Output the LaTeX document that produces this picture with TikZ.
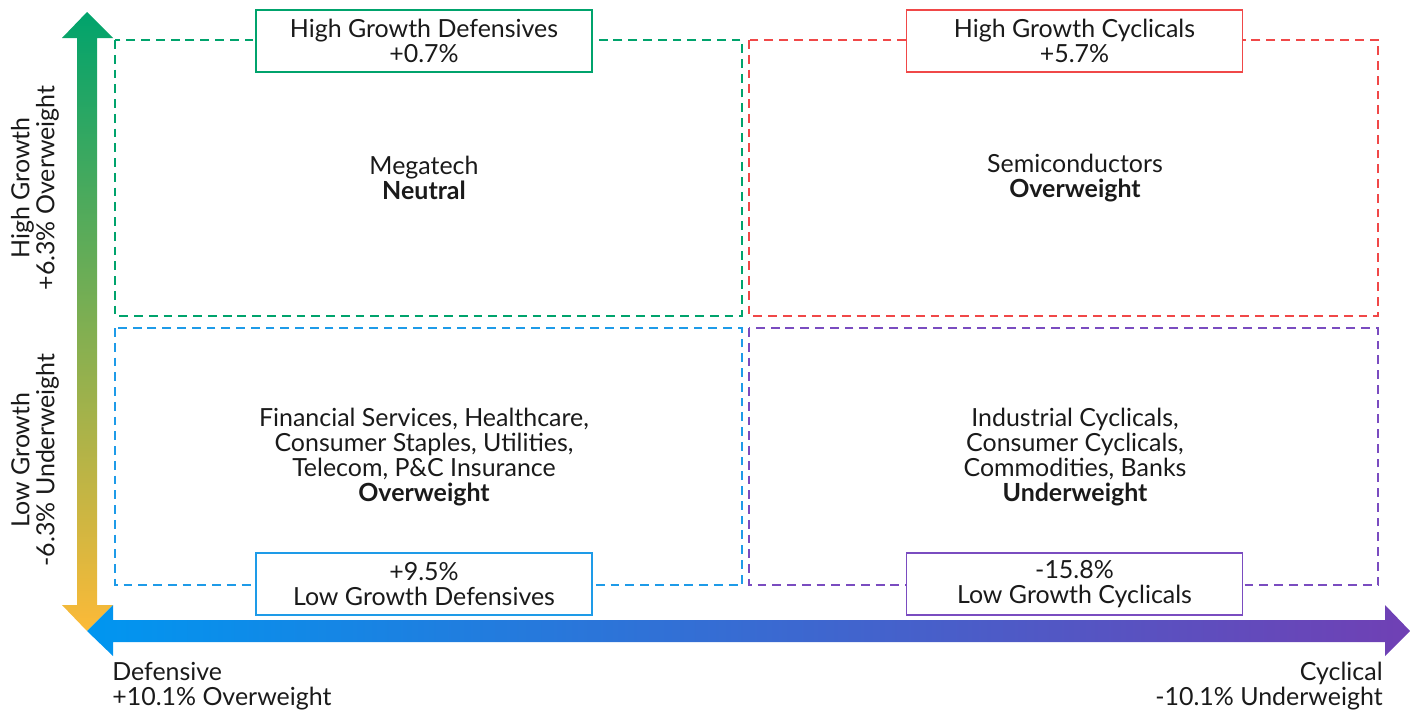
\documentclass[tikz,border=0pt]{standalone}
\usepackage{fontspec}
\setmainfont{Lato}
\usepackage{tikz}
\usetikzlibrary{positioning,calc}
\usepackage{xcolor}

\definecolor{hgdgreen}{RGB}{0,163,108}
\definecolor{hgcred}{RGB}{240,72,72}
\definecolor{lgdblue}{RGB}{30,155,232}
\definecolor{lgcpurple}{RGB}{122,76,192}
\definecolor{axisyellow}{RGB}{252,186,56}
\definecolor{axisblue}{RGB}{0,150,240}
\definecolor{axispurple}{RGB}{112,64,180}
\definecolor{inkgray}{RGB}{26,26,26}

\tikzset{
  quad/.style={dashed, line width=1.1pt, dash pattern=on 5pt off 3.4pt},
  tag/.style={draw, fill=white, line width=0.9pt, minimum width=6.72cm, minimum height=1.24cm, align=center, inner sep=0pt},
  body/.style={align=center, text=inkgray},
}

\begin{document}
\begin{tikzpicture}[x=0.02cm, y=-0.02cm, font=\fontsize{14.2}{14.2}\selectfont, text=inkgray]
\useasboundingbox (0,0) rectangle (1417,710);

% Vertical axis (growth)
\shade[top color=hgdgreen, bottom color=axisyellow]
  (77,38) -- (62,38) -- (87,12) -- (113,38) -- (97,38) -- (97,605) -- (113,605)
  -- (87,631) -- (62,605) -- (77,605) -- cycle;
% Horizontal axis (cyclicality)
\shade[left color=axisblue, right color=axispurple]
  (113,620) -- (113,605) -- (87,631) -- (113,656) -- (113,642) -- (1385,642)
  -- (1385,656) -- (1410,631) -- (1385,605) -- (1385,620) -- cycle;

% Quadrants
\draw[quad, draw=hgdgreen] (115,40) rectangle (742,316);
\draw[quad, draw=hgcred] (749,40) rectangle (1378,316);
\draw[quad, draw=lgdblue] (115,328) rectangle (742,585);
\draw[quad, draw=lgcpurple] (749,328) rectangle (1378,585);

% Quadrant tags
\node[tag, draw=hgdgreen] (hgd) at (424,41) {High Growth Defensives\\+0.7\%};
\node[tag, draw=hgcred] (hgc) at (1074.5,41) {High Growth Cyclicals\\+5.7\%};
\node[tag, draw=lgdblue] (lgd) at (424,584) {+9.5\%\\Low Growth Defensives};
\node[tag, draw=lgcpurple] (lgc) at (1074.5,584) {-15.8\%\\Low Growth Cyclicals};

% Sector calls
\node[body] (megatech) at (424,178) {Megatech\\\textbf{Neutral}};
\node[body] (semis) at (1075,178) {Semiconductors\\\textbf{Overweight}};
\node[body] (lgdsect) at (424,457) {Financial Services, Healthcare,\\Consumer Staples, Utilities,\\Telecom, P\&C Insurance\\\textbf{Overweight}};
\node[body] (lgcsect) at (1075,457) {Industrial Cyclicals,\\Consumer Cyclicals,\\Commodities, Banks\\\textbf{Underweight}};

% Axis labels
\node[body, rotate=90] (highlbl) at (35,188) {High Growth\\+6.3\% Overweight};
\node[body, rotate=90] (lowlbl) at (35,460) {Low Growth\\-6.3\% Underweight};
\node[align=left, anchor=north west, inner sep=0pt] (deflbl) at (112,662) {Defensive\\+10.1\% Overweight};
\node[align=right, anchor=north east, inner sep=0pt] (cyclbl) at (1383,662) {Cyclical\\-10.1\% Underweight};
\end{tikzpicture}
\end{document}
